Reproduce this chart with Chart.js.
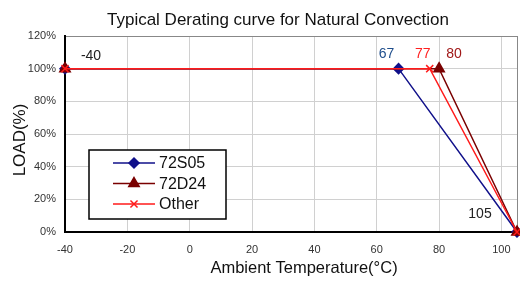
<!DOCTYPE html>
<html><head><meta charset="utf-8">
<script src="https://cdn.jsdelivr.net/npm/chart.js@4/dist/chart.umd.min.js"></script>
<style>html,body{margin:0;padding:0;background:#fff}#c{display:block}</style>
</head><body>
<div style="width:520px;height:282px"><canvas id="c" width="520" height="282"></canvas></div>
<script>
const chartTitle = 'Typical Derating curve for Natural Convection';
const xTitle = 'Ambient Temperature(°C)';
const yTitle = 'LOAD(%)';
const seriesNames = ['72S05', '72D24', 'Other'];
const temps72S05 = [-40, 67, 105];
const load72S05 = [100, 100, 0];
const temps72D24 = [-40, 80, 105];
const load72D24 = [100, 100, 0];
const tempsOther = [-40, 77, 105];
const loadOther = [100, 100, 0];
const xTicks = [-40, -20, 0, 20, 40, 60, 80, 100];
const yTicks = [0, 20, 40, 60, 80, 100, 120];
const annotations = [
  {text: '-40', x: -40, y: 100, color: '#222', dx: 26, dy: -13},
  {text: '67', x: 67, y: 100, color: '#1f4e8c', dx: -12, dy: -15},
  {text: '77', x: 77, y: 100, color: '#ff2020', dx: -7, dy: -15},
  {text: '80', x: 80, y: 100, color: '#a01818', dx: 15, dy: -15},
  {text: '105', x: 105, y: 0, color: '#222', dx: -37, dy: -18}
];

const FONT = '"Liberation Sans", Arial, sans-serif';
const colors = ['#10108a', '#7a0000', '#ff1a1a'];
const shapes = ['rectRot', 'triangle', 'crossRot'];
const radii = [5, 6, 5];

function pts(xs, ys){ return xs.map((x,i)=>({x:x, y:ys[i]})); }
const dataSets = [pts(temps72S05, load72S05), pts(temps72D24, load72D24), pts(tempsOther, loadOther)];

const annotPlugin = {
  id: 'annot',
  afterDraw(chart){
    const ctx = chart.ctx, xs = chart.scales.x, ys = chart.scales.y, ca = chart.chartArea;
    ctx.save();
    // titles
    ctx.fillStyle = '#111';
    ctx.textAlign = 'center'; ctx.textBaseline = 'middle';
    ctx.font = '17px ' + FONT;
    ctx.fillText(chartTitle, 278, 20);
    ctx.font = '16.5px ' + FONT;
    ctx.fillText(xTitle, 304, 268);
    ctx.save();
    ctx.translate(20, 140);
    ctx.rotate(-Math.PI / 2);
    ctx.font = '17px ' + FONT;
    ctx.fillText(yTitle, 0, 0);
    ctx.restore();

    ctx.font = '14px ' + FONT;
    annotations.forEach(a => {
      ctx.fillStyle = a.color;
      ctx.fillText(a.text, xs.getPixelForValue(a.x) + a.dx, ys.getPixelForValue(a.y) + a.dy);
    });
    // legend box
    const lx = ca.left + 24, ly = ys.getPixelForValue(0) - 82, lw = 137, lh = 69;
    ctx.fillStyle = '#fff';
    ctx.fillRect(lx, ly, lw, lh);
    ctx.strokeStyle = '#000'; ctx.lineWidth = 1.5;
    ctx.strokeRect(lx, ly, lw, lh);
    ctx.font = '16px ' + FONT;
    ctx.textAlign = 'left';
    seriesNames.forEach((n, i) => {
      const yy = ly + 13 + i * 20.5;
      ctx.strokeStyle = colors[i]; ctx.lineWidth = 1.5;
      ctx.beginPath(); ctx.moveTo(lx + 24, yy); ctx.lineTo(lx + 66, yy); ctx.stroke();
      ctx.save();
      ctx.fillStyle = colors[i]; ctx.strokeStyle = colors[i];
      Chart.helpers.drawPoint(ctx, {pointStyle: shapes[i], radius: radii[i], borderWidth: 1.5}, lx + 45, yy);
      ctx.restore();
      ctx.fillStyle = '#111';
      ctx.fillText(n, lx + 70, yy + 1);
    });
    ctx.restore();
  }
};

new Chart(document.getElementById('c'), {
  type: 'line',
  data: {
    datasets: seriesNames.map((n, i) => ({
      label: n,
      data: dataSets[i],
      borderColor: colors[i],
      backgroundColor: colors[i],
      borderWidth: 1.5,
      pointStyle: shapes[i],
      pointRadius: radii[i],
      pointBorderWidth: 1.5,
      tension: 0,
      clip: false,
      order: 2 - i
    }))
  },
  options: {
    responsive: false,
    animation: false,
    layout: {autoPadding: false, padding: {left: 0, right: 3, top: 36, bottom: 0}},
    plugins: {
      legend: {display: false},
      tooltip: {enabled: false},
      title: {display: false}
    },
    scales: {
      x: {
        type: 'linear', min: -40, max: 105,
        afterFit(s){ s.height = 50; s.paddingLeft = 0; s.paddingRight = 0; },
        afterBuildTicks(s){ s.ticks = xTicks.concat([105]).map(v => ({value: v})); },
        ticks: {
          color: '#333', padding: 11,
          font: {family: FONT, size: 11},
          callback: v => (v === 105 ? '' : String(v))
        },
        grid: {
          drawTicks: false,
          color: ctx => (ctx.tick && ctx.tick.value === 105 ? '#888' : '#d0d0d0'),
          lineWidth: 1
        },
        border: {color: '#000', width: 2}
      },
      y: {
        type: 'linear', min: 0, max: 120,
        afterFit(s){ s.width = 65; s.paddingTop = 0; s.paddingBottom = 0; },
        afterBuildTicks(s){ s.ticks = yTicks.map(v => ({value: v})); },
        ticks: {
          color: '#333', padding: 9,
          font: {family: FONT, size: 11},
          callback: v => v + '%'
        },
        grid: {
          drawTicks: false,
          color: ctx => (ctx.tick && ctx.tick.value === 120 ? '#888' : '#d0d0d0'),
          lineWidth: 1
        },
        border: {color: '#000', width: 2}
      }
    }
  },
  plugins: [annotPlugin]
});
</script>
</body></html>
